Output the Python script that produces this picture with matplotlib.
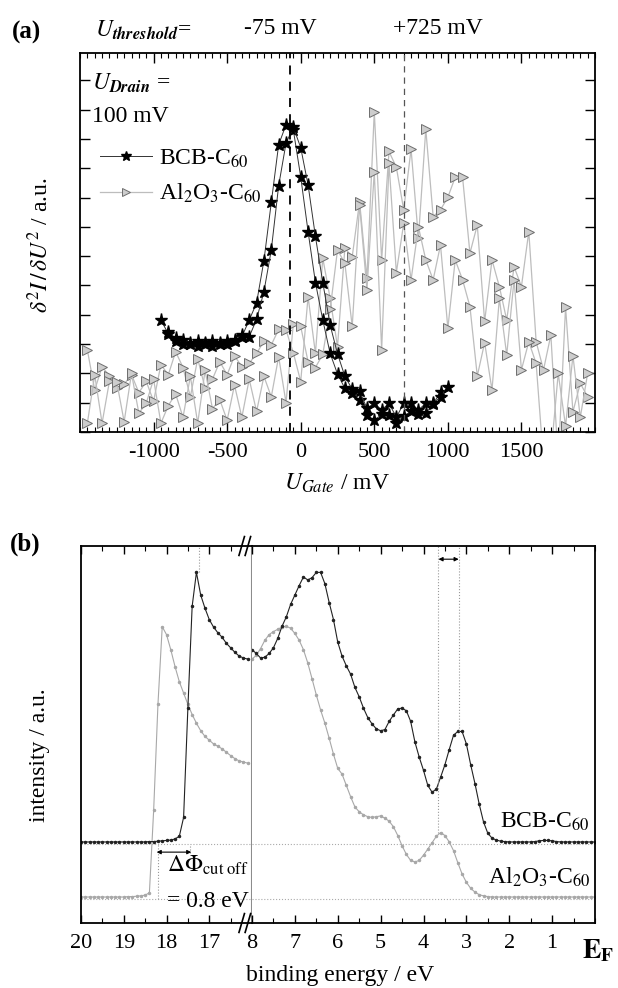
import numpy as np
import matplotlib.pyplot as plt
from matplotlib.ticker import MultipleLocator, NullFormatter

plt.rcParams['font.family'] = 'serif'
plt.rcParams['font.serif'] = ['Liberation Serif', 'DejaVu Serif']
plt.rcParams['mathtext.fontset'] = 'stix'
plt.rcParams['font.size'] = 16
plt.rcParams['axes.unicode_minus'] = False

# ---------------- panel (a) data: d2I/dU2 vs gate voltage ----------------
bcb_ua = [-950, -900, -850, -800, -750, -700, -650, -600, -550, -500, -450, -400,
          -350, -300, -250, -200, -150, -100, -50, 0, 50, 100, 150, 200, 250, 300,
          350, 400, 450, 500, 550, 600, 650, 700, 750, 800, 850, 900, 950]
bcb_a = [3.82, 3.35, 3.10, 3.00, 3.05, 2.95, 3.00, 2.95, 3.05, 3.00, 3.10, 3.25,
         3.82, 4.40, 5.85, 7.83, 9.80, 10.48, 10.30, 8.70, 6.84, 5.10, 3.82, 2.68,
         1.98, 1.49, 1.32, 1.09, 0.58, 0.40, 0.60, 0.58, 0.30, 0.55, 0.70, 0.60,
         0.64, 0.95, 1.38]
bcb_ub = [-900, -850, -800, -750, -700, -650, -600, -550, -500, -450, -400, -350,
          -300, -250, -200, -150, -100, -50, 0, 50, 100, 150, 200, 250, 300, 350,
          400, 450, 500, 550, 600, 650, 700, 750, 800, 850, 900, 950, 1000]
bcb_b = [3.40, 3.20, 3.15, 3.00, 3.10, 3.05, 3.10, 3.00, 3.10, 3.15, 3.30, 3.25,
         3.84, 4.79, 6.21, 8.40, 9.85, 10.40, 9.70, 8.43, 6.67, 5.10, 3.65, 2.67,
         1.90, 1.46, 1.39, 0.81, 0.98, 0.75, 0.98, 0.50, 0.98, 0.98, 0.75, 0.98,
         0.98, 1.20, 1.55]

al_u = [-1450, -1400, -1350, -1300, -1250, -1200, -1150, -1100, -1050, -1000,
        -950, -900, -850, -800, -750, -700, -650, -600, -550, -500, -450, -400,
        -350, -300, -250, -200, -150, -100, -50, 0, 50, 100, 150, 200, 250, 300,
        350, 400, 450, 500, 550, 600, 650, 700, 750, 800, 850, 900, 950, 1000,
        1050, 1100, 1150, 1200, 1250, 1300, 1350, 1400, 1450, 1500, 1550, 1600,
        1650, 1700, 1750, 1800, 1850, 1900, 1950]
al_1 = [2.80, 1.43, 2.23, 1.91, 1.50, 1.63, 1.96, 1.34, 1.73, 1.05,
        2.30, 1.95, 2.74, 2.20, 1.20, 2.50, 1.50, 1.80, 2.40, 1.95, 2.60, 2.23,
        2.34, 2.68, 3.10, 2.97, 3.50, 3.48, 2.70, 1.72, 4.62, 2.68, 5.93, 4.56,
        2.91, 6.27, 5.98, 7.86, 5.24, 10.93, 5.87, 9.57, 9.03, 7.58, 9.65, 6.61,
        10.33, 7.35, 7.58, 8.01, 8.69, 8.69, 6.10, 7.06, 3.77, 5.87, 4.96, 3.82,
        5.64, 4.96, 6.84, 3.08, 2.12, 3.31, -1.0, 4.26, 0.69, 1.66, 1.20]
al_2 = [0.30, 1.95, 0.30, 1.73, 1.70, 0.35, 2.00, 0.64, 0.98, 1.80,
        0.30, 0.90, 1.30, 0.50, 1.90, 0.30, 2.10, 0.80, 1.10, 0.40, 1.60, 0.50,
        1.80, 0.70, 1.90, 1.20, 2.57, 1.00, 3.70, 3.60, 2.40, 2.20, 2.65, 4.18,
        6.21, 5.76, 3.60, 7.75, 4.85, 8.88, 2.80, 9.17, 5.44, 7.12, 5.19, 7.00,
        5.87, 5.19, 6.38, 3.54, 5.87, 5.19, 4.28, 1.91, 3.05, 1.43, 4.56, 2.63,
        5.19, 2.12, 3.08, 2.34, -1.0, -0.8, 2.00, 0.20, 2.60, 0.50, 2.00]

u_threshold = [-75, 700]

# ---------------- panel (b) data: photoemission spectra ----------------
e_hi = np.round(np.arange(20.0, 16.05, -0.1), 1)   # 20.0 ... 16.1
bcb_hi = [21.5, 21.5, 21.5, 21.5, 21.5, 21.5, 21.5, 21.5, 21.5, 21.5,
          21.5, 21.5, 21.5, 21.5, 21.5, 21.5, 21.6, 21.6, 21.7, 21.8,
          21.9, 22.0, 22.3, 23.0, 28.0, 57.0, 84.0, 93.0, 87.0, 83.5,
          80.5, 78.5, 77.0, 75.8, 74.2, 73.0, 71.8, 70.8, 70.3, 70.0]
al_hi = [6.9, 6.9, 6.9, 6.9, 6.9, 6.9, 6.9, 6.9, 6.9, 6.9,
         6.9, 7.0, 7.0, 7.1, 7.2, 7.4, 8.0, 30.0, 58.0, 78.6,
         76.5, 72.5, 68.0, 64.0, 61.0, 58.0, 55.3, 53.0, 51.0, 49.5,
         48.5, 47.5, 46.9, 46.2, 45.3, 44.4, 43.6, 43.0, 42.7, 42.4]

e_lo = np.round(np.arange(8.0, -0.05, -0.1), 1)    # 8.0 ... 0.0
bcb_lo = [72.5, 71.5, 70.3, 70.5, 71.5, 73.0, 75.5, 78.7, 81.2, 84.5,
          87.0, 89.5, 91.8, 91.0, 91.6, 93.0, 93.0, 90.0, 85.0, 80.5,
          74.5, 70.8, 68.2, 66.0, 62.5, 60.0, 57.0, 54.5, 52.8, 51.5,
          51.0, 51.3, 53.5, 55.2, 56.8, 57.0, 56.3, 53.5, 48.0, 44.0,
          40.5, 36.5, 34.7, 35.5, 38.7, 42.0, 46.0, 49.8, 50.8, 50.8,
          47.5, 42.0, 37.0, 31.5, 26.8, 23.8, 22.5, 22.0, 21.7, 21.6,
          21.5, 21.5, 21.5, 21.5, 21.5, 21.5, 21.6, 21.8, 21.9, 21.9,
          21.8, 21.6, 21.5, 21.5, 21.5, 21.5, 21.5, 21.5, 21.5, 21.5, 21.5]
al_lo = [70.0, 71.0, 72.8, 75.0, 76.5, 77.3, 77.9, 78.5, 78.7, 78.2,
         76.8, 75.0, 72.5, 69.0, 64.8, 60.5, 56.5, 53.0, 49.0, 44.8,
         41.0, 39.5, 36.5, 33.5, 30.8, 29.5, 28.7, 28.2, 28.0, 28.2,
         28.4, 27.8, 27.0, 25.5, 23.2, 20.5, 18.2, 16.6, 16.2, 16.6,
         18.0, 19.6, 21.3, 23.0, 24.0, 23.2, 21.5, 19.2, 16.0, 13.0,
         10.8, 9.2, 8.2, 7.5, 7.2, 7.0, 6.9, 6.9, 6.9, 6.9,
         6.9, 6.9, 6.9, 6.9, 6.9, 6.9, 6.9, 6.9, 6.9, 6.9,
         6.9, 6.9, 6.9, 6.9, 6.9, 6.9, 6.9, 6.9, 6.9, 6.9, 6.9]

W, H = 618, 988
fig = plt.figure(figsize=(W / 100, H / 100), dpi=100)

def box(l, t, r, b):
    return [l / W, 1 - b / H, (r - l) / W, (b - t) / H]

# ================= panel (a) =================
ax = fig.add_axes(box(80, 53, 595, 432))
al_style = dict(color='#bdbdbd', lw=0.9, marker='>', ms=7.5, mfc='#cdcdcd',
                mec='#6e6e6e', mew=0.7)
ax.plot(al_u, al_1, **al_style)
ax.plot(al_u, al_2, **al_style)
star_style = dict(color='#333333', lw=0.7, marker='*', ms=9.5, mfc='black', mec='black')
ax.plot(bcb_ua, bcb_a, **star_style)
ax.plot(bcb_ub, bcb_b, **star_style)

ax.axvline(u_threshold[0], color='black', lw=1.3, ls=(0, (5, 4)))
ax.axvline(u_threshold[1], color='#555555', lw=0.9, ls=(0, (5, 4)))

ax.set_xlim(-1500, 2000)
ax.set_ylim(0, 12.93)
ax.xaxis.set_minor_locator(MultipleLocator(50))
ax.set_xticks([-1000, -500, 0, 500, 1000, 1500])
ax.yaxis.set_major_locator(MultipleLocator(1))
ax.yaxis.set_major_formatter(NullFormatter())
ax.tick_params(which='both', direction='in', top=True, right=True)
ax.tick_params(which='major', length=7, width=1)
ax.tick_params(which='minor', length=3.5, width=0.8)
ax.tick_params(axis='x', pad=8, labelsize=16)
for s in ax.spines.values():
    s.set_linewidth(1.3)

# legend-like annotations
ax.text(0.024, 0.92, r'$U_{\mathbfit{Drain}}$ =', transform=ax.transAxes,
        fontsize=17, va='center')
ax.text(0.024, 0.832, '100 mV', transform=ax.transAxes, fontsize=17, va='center')
h1, = ax.plot([], [], **star_style)
h2, = ax.plot([], [], **al_style)
h1.set_markersize(7)
h2.set_markersize(6)
ax.legend([h1, h2], ['BCB-C$_{60}$', 'Al$_2$O$_3$-C$_{60}$'], loc='upper left',
          bbox_to_anchor=(0.02, 0.775), frameon=False, fontsize=17,
          handlelength=2.2, handletextpad=0.3, labelspacing=0.5, borderaxespad=0)

fig.text(40 / W, 1 - 245 / H, r'$\delta^2 I\,/\,\delta U^2$ / a.u.', rotation=90,
         ha='center', va='center', fontsize=17)
fig.text(337 / W, 1 - 483 / H, r'$U_{Gate}$ / mV', ha='center', va='center', fontsize=17)

fig.text(12 / W, 1 - 32 / H, '(a)', fontsize=18, weight='bold', va='center')
fig.text(95 / W, 1 - 30 / H, r'$U_{\mathbfit{threshold}}$=', fontsize=17, va='center')
fig.text(280 / W, 1 - 28 / H, '-75 mV', fontsize=17, ha='center', va='center')
fig.text(438 / W, 1 - 28 / H, '+725 mV', fontsize=17, ha='center', va='center')

# ================= panel (b) =================
axl = fig.add_axes(box(81, 546, 252, 923))
axr = fig.add_axes(box(252, 546, 595, 923), sharey=axl)

bcb_style = dict(color='#222222', lw=0.8, marker='.', ms=3)
alb_style = dict(color='#a8a8a8', lw=0.8, marker='.', ms=3)
for a, e, yb, ya in [(axl, e_hi, bcb_hi, al_hi), (axr, e_lo, bcb_lo, al_lo)]:
    a.plot(e, ya, **alb_style)
    a.plot(e, yb, **bcb_style)
    a.axhline(21.0, color='#aaaaaa', lw=0.8, ls=':')
    a.axhline(6.4, color='#aaaaaa', lw=0.8, ls=':')
    a.tick_params(which='both', direction='in', top=True, left=False, right=False,
                  labelleft=False, pad=8, labelsize=16)
    a.tick_params(which='major', length=6, width=1)
    a.tick_params(which='minor', length=3.5, width=0.8)
    a.xaxis.set_major_locator(MultipleLocator(1))
    a.xaxis.set_minor_locator(MultipleLocator(0.5))
    for s in a.spines.values():
        s.set_linewidth(1.3)

axl.set_xlim(20, 16)
axl.set_ylim(0, 100)
axl.set_xticks([20, 19, 18, 17])
axl.spines['right'].set_color('#8c8c8c')
axl.spines['right'].set_linewidth(1.5)
axr.set_xlim(8, 0)
axr.set_xticks([8, 7, 6, 5, 4, 3, 2, 1])
axr.spines['left'].set_visible(False)

# cut-off markers
axl.plot([18.2, 18.2], [6.4, 21.0], color='#999999', lw=0.8, ls=':')
axl.plot([17.25, 17.25], [93, 100], color='#999999', lw=0.8, ls=':')
axl.plot([17.45, 17.45], [18.5, 21.0], color='#999999', lw=0.8, ls=':')
axl.annotate('', xy=(17.42, 18.8), xytext=(18.23, 18.8),
             arrowprops=dict(arrowstyle='<|-|>', color='black', lw=0.8,
                             mutation_scale=6, shrinkA=0, shrinkB=0))
axl.text(17.98, 15.4, r'$\Delta\Phi_{\mathrm{cut\ off}}$', fontsize=17, va='center')
axl.text(17.98, 5.6, '= 0.8 eV', fontsize=17, va='center')

# HOMO onset markers
axr.plot([3.66, 3.66], [24.0, 100], color='#999999', lw=0.8, ls=':')
axr.plot([3.17, 3.17], [50.8, 100], color='#999999', lw=0.8, ls=':')
axr.annotate('', xy=(3.18, 96.5), xytext=(3.65, 96.5),
             arrowprops=dict(arrowstyle='<|-|>', color='black', lw=0.8,
                             mutation_scale=6, shrinkA=0, shrinkB=0))
axr.text(0.12, 24.0, 'BCB-C$_{60}$', fontsize=17, ha='right', va='bottom')
axr.text(0.12, 9.0, 'Al$_2$O$_3$-C$_{60}$', fontsize=17, ha='right', va='bottom')

# break marks
for yy in (0, 1):
    for dx in (-0.03, -0.012):
        axr.plot([dx - 0.008, dx + 0.008], [yy - 0.025, yy + 0.025],
                 transform=axr.transAxes, color='black', lw=1.2, clip_on=False)

fig.text(40 / W, 1 - 755 / H, 'intensity / a.u.', rotation=90, ha='center',
         va='center', fontsize=17)
fig.text(340 / W, 1 - 975 / H, 'binding energy / eV', ha='center', va='center',
         fontsize=17)
fig.text(614 / W, 1 - 951 / H, r'$\mathbf{E}_\mathbf{F}$', fontsize=20,
         ha='right', va='center')
fig.text(10 / W, 1 - 544 / H, '(b)', fontsize=18, weight='bold', va='center')

fig.savefig('out.png', dpi=100)
